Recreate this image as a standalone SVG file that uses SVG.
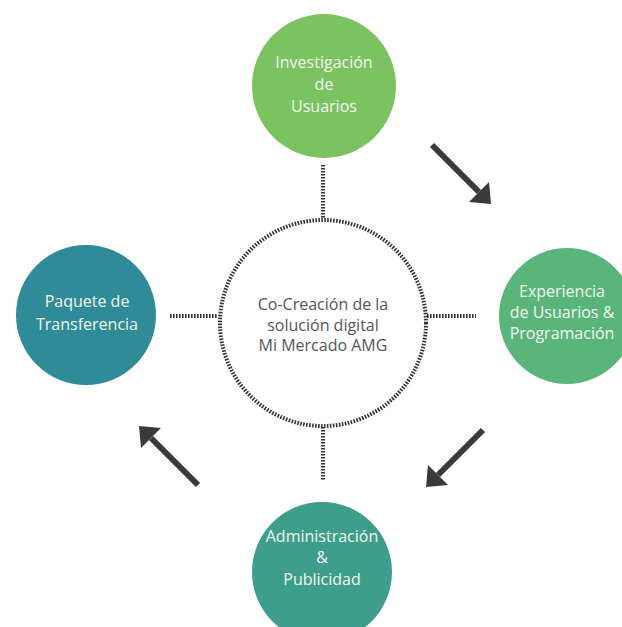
<svg xmlns="http://www.w3.org/2000/svg" width="622" height="627" viewBox="0 0 622 627">
<defs>
<style>
.lbl{font-family:"Open Sans","Liberation Sans",sans-serif;font-size:16px;fill:#f2f7ee;text-anchor:middle}
.ctr{font-family:"Open Sans","Liberation Sans",sans-serif;font-size:16px;fill:#555;text-anchor:middle}
.dot{stroke:#333;stroke-width:4;stroke-dasharray:1.6 1.4;fill:none}
.shaft{stroke:#3a3a3a;stroke-width:6;fill:none}
.head{fill:#3a3a3a}
</style>
</defs>
<rect width="622" height="627" fill="#fff"/>
<g id="connectors">
<line class="dot" x1="323" y1="165" x2="323" y2="219"/>
<line class="dot" x1="323" y1="427" x2="323" y2="480"/>
<line class="dot" x1="170" y1="316" x2="218" y2="316"/>
<line class="dot" x1="427" y1="316" x2="476" y2="316"/>
<g id="arrow1"><line class="shaft" x1="432" y1="145" x2="479" y2="192"/><polygon class="head" points="491,204 489,182 469,202"/></g>
<g id="arrow2"><line class="shaft" x1="483" y1="430" x2="438" y2="475"/><polygon class="head" points="426,487 448,485 428,465"/></g>
<g id="arrow3"><line class="shaft" x1="198" y1="485" x2="151" y2="438"/><polygon class="head" points="139,426 141,448 161,428"/></g>
</g>
<g id="center">
<circle class="dot" cx="323" cy="323" r="103"/>
<text class="ctr" x="323" y="310">Co-Creación de la</text>
<text class="ctr" x="323" y="331">solución digital</text>
<text class="ctr" x="323" y="351">Mi Mercado AMG</text>
</g>
<g id="investigacion">
<circle cx="324" cy="86" r="72" fill="#7ac360"/>
<text class="lbl" x="324" y="68">Investigación</text>
<text class="lbl" x="324" y="90">de</text>
<text class="lbl" x="324" y="112">Usuarios</text>
</g>
<g id="experiencia">
<circle cx="567" cy="316" r="68" fill="#5ab57b"/>
<text class="lbl" x="562" y="297">Experiencia</text>
<text class="lbl" x="562" y="318">de Usuarios &amp;</text>
<text class="lbl" x="562" y="339">Programación</text>
</g>
<g id="administracion">
<circle cx="322" cy="572" r="70" fill="#3d9f8b"/>
<text class="lbl" x="322" y="542">Administración</text>
<text class="lbl" x="322" y="563">&amp;</text>
<text class="lbl" x="322" y="585">Publicidad</text>
</g>
<g id="paquete">
<circle cx="86" cy="315" r="70" fill="#2f8b97"/>
<text class="lbl" x="87" y="307">Paquete de</text>
<text class="lbl" x="87" y="330">Transferencia</text>
</g>
</svg>
